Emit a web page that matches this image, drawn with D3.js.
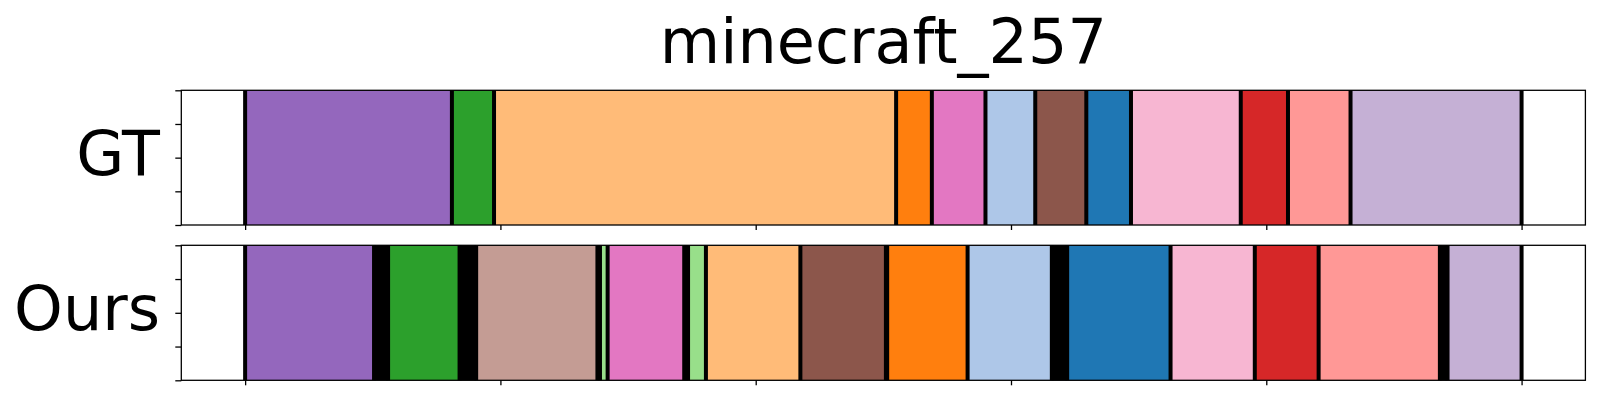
<!DOCTYPE html>
<html>
<head>
<meta charset="utf-8">
<script src="https://cdn.jsdelivr.net/npm/d3@7"></script>
<style>
  html, body { margin: 0; padding: 0; background: #fff; }
  svg { display: block; font-family: "DejaVu Sans", sans-serif; }
</style>
</head>
<body>
<svg id="chart" width="1600" height="400"></svg>
<script>
// ---------- data ----------
const title = "minecraft_257";
const rowNames = ["GT", "Ours"];
const totalFrames = 1000;
const xTickValues = [0, 200, 400, 600, 800, 1000];
const yTickValues = [0, 0.25, 0.5, 0.75, 1];

// class ids index into tab20; -1 = background (black)
const gtLabels = [8, 4, 3, 2, 12, 1, 10, 0, 13, 6, 7, 9];
const gtBounds = [0, 162, 195, 510, 538, 580, 619, 659, 694, 780, 817, 866, 1000];

const oursLabels = [8, -1, 4, -1, 11, -1, 5, 12, -1, 5, 3, 10, -1, 2, 1, -1, 0, 13, 6, 7, -1, 9];
const oursBounds = [0, 101, 112, 168, 181, 276, 278, 284, 344, 347, 361, 435, 502, 503, 566, 632, 644, 725, 791, 841, 936, 942, 1000];

const tab20 = ["#1f77b4","#aec7e8","#ff7f0e","#ffbb78","#2ca02c","#98df8a","#d62728","#ff9896",
               "#9467bd","#c5b0d5","#8c564b","#c49c94","#e377c2","#f7b6d2","#7f7f7f","#c7c7c7",
               "#bcbd22","#dbdb8d","#17becf","#9edae5"];

// ---------- layout ----------
const svg = d3.select("#chart");
const left = 181.3, right = 1585.4;
const panels = [
  { name: rowNames[0], labels: gtLabels, bounds: gtBounds, top: 90.3, bottom: 225 },
  { name: rowNames[1], labels: oursLabels, bounds: oursBounds, top: 245.3, bottom: 380.3 }
];

const margin = totalFrames * 0.05;
const x = d3.scaleLinear().domain([-margin, totalFrames + margin]).range([left, right]);
const color = c => c < 0 ? "#000000" : tab20[c];

svg.append("text")
  .attr("x", (left + right) / 2)
  .attr("y", 63)
  .attr("text-anchor", "middle")
  .attr("font-size", 62)
  .attr("fill", "#000")
  .text(title);

panels.forEach(p => {
  const y = d3.scaleLinear().domain([0, 1]).range([p.bottom, p.top]);
  const g = svg.append("g");

  const segs = p.labels.map((lab, i) => ({ lab, s: p.bounds[i], e: p.bounds[i + 1] }));

  g.selectAll("rect.seg").data(segs).enter().append("rect")
    .attr("class", "seg")
    .attr("x", d => x(d.s))
    .attr("width", d => x(d.e) - x(d.s))
    .attr("y", y(1))
    .attr("height", y(0) - y(1))
    .attr("fill", d => color(d.lab));

  g.selectAll("line.sep").data(p.bounds).enter().append("line")
    .attr("class", "sep")
    .attr("x1", d => x(d)).attr("x2", d => x(d))
    .attr("y1", y(1)).attr("y2", y(0))
    .attr("stroke", "#000")
    .attr("stroke-width", 4);

  // axes
  const ya = g.append("g").attr("transform", `translate(${left},0)`)
    .call(d3.axisLeft(y).tickValues(yTickValues).tickFormat("").tickSize(6).tickSizeOuter(0));
  ya.select(".domain").remove();
  ya.selectAll("line").attr("stroke", "#000").attr("stroke-width", 1.3);

  const xa = g.append("g").attr("transform", `translate(0,${p.bottom})`)
    .call(d3.axisBottom(x).tickValues(xTickValues).tickFormat("").tickSize(5).tickSizeOuter(0));
  xa.select(".domain").remove();
  xa.selectAll("line").attr("stroke", "#000").attr("stroke-width", 1.3);

  // frame
  g.append("rect")
    .attr("x", left).attr("y", p.top)
    .attr("width", right - left).attr("height", p.bottom - p.top)
    .attr("fill", "none").attr("stroke", "#000").attr("stroke-width", 1.3);

  // row label
  g.append("text")
    .attr("x", 160)
    .attr("y", (p.top + p.bottom) / 2 + 17)
    .attr("text-anchor", "end")
    .attr("font-size", 62)
    .attr("fill", "#000")
    .text(p.name);
});
</script>
</body>
</html>
